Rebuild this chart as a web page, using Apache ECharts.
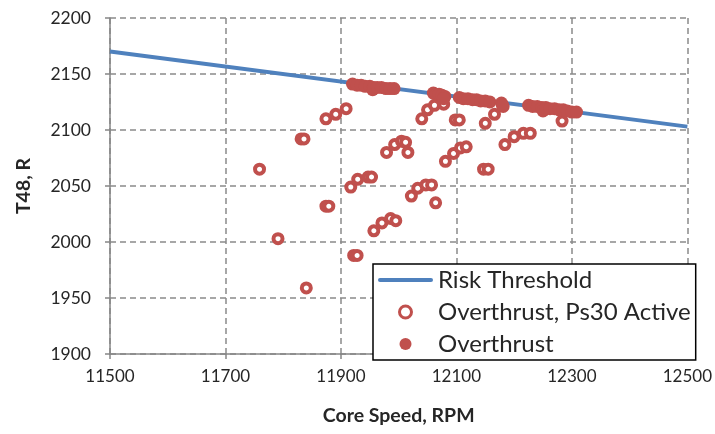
<!DOCTYPE html>
<html><head><meta charset="utf-8">
<script src="https://cdn.jsdelivr.net/npm/echarts@6/dist/echarts.min.js"></script>
<style>html,body{margin:0;padding:0;background:#fff}#c{width:715px;height:434px}</style>
</head><body><div id="c"></div>
<script>
const xTitle = 'Core Speed, RPM';
const yTitle = 'T48, R';
const seriesNames = ['Risk Threshold', 'Overthrust, Ps30 Active', 'Overthrust'];
const thresholdRpm = [11500, 12500];
const thresholdT48 = [2170, 2103];
const ps30Rpm = [11759,11791,11840,11831,11836,11874,11879,11874,11891,11909,11917,11929,11947,11953,11922,11928,11957,11971,11986,11995,11979,11993,12005,12012,12016,12022,12033,12047,12057,12064,12040,12050,12062,12078,12081,12095,12107,12117,12098,12105,12150,12166,12181,12147,12155,12184,12200,12216,12228,12283];
const ps30T48 = [2065,2003,1959,2092,2092,2032,2032,2110,2114,2119,2049,2056,2058,2058,1988,1988,2010,2017,2021,2019,2080,2087,2090,2089,2080,2041,2048,2051,2051,2035,2110,2118,2122,2123,2072,2079,2084,2085,2109,2109,2106,2114,2121,2065,2065,2087,2094,2097,2097,2108];
const overRpm = [11920,11928,11935,11942,11950,11955,11957,11963,11970,11978,11985,11992,12060,12065,12070,12075,12080,12078,12105,12112,12120,12128,12135,12142,12150,12158,12178,12180,12225,12232,12240,12248,12250,12255,12262,12270,12278,12285,12292,12300,12308];
const overT48 = [2141,2140,2140,2139,2139,2136,2138,2138,2138,2137,2137,2137,2133,2132,2132,2131,2130,2128,2129,2128,2128,2127,2127,2126,2126,2125,2124,2122,2122,2121,2121,2120,2117,2120,2119,2119,2118,2118,2117,2116,2116];
const xMin = 11500, xMax = 12500, xStep = 200;
const yMin = 1900, yMax = 2200, yStep = 50;

const red = '#C0504D', blue = '#4F81BD';
const font = 'Lato, "Open Sans", sans-serif';
const zip = (a, b) => a.map((v, i) => [v, b[i]]);
const chart = echarts.init(document.getElementById('c'));
const splitLine = {show: true, lineStyle: {color: '#8a8a8a', width: 1.5, type: [6, 4]}};
chart.setOption({
  animation: false,
  grid: {left: 110, right: 25, top: 18, bottom: 80},
  xAxis: {
    type: 'value', min: xMin, max: xMax, interval: xStep,
    name: xTitle, nameLocation: 'middle', nameGap: 52,
    nameTextStyle: {fontFamily: font, fontSize: 19.5, fontWeight: 'bold', color: '#262626'},
    axisLine: {lineStyle: {color: '#868686', width: 1.5}},
    axisTick: {show: true, length: 5, lineStyle: {color: '#868686', width: 1.5}},
    axisLabel: {fontFamily: font, fontSize: 17, color: '#262626', margin: 14, formatter: v => String(v)},
    splitLine: splitLine
  },
  yAxis: {
    type: 'value', min: yMin, max: yMax, interval: yStep,
    name: yTitle, nameLocation: 'middle', nameGap: 76, nameRotate: 90,
    nameTextStyle: {fontFamily: font, fontSize: 19.5, fontWeight: 'bold', color: '#262626'},
    axisLine: {show: true, lineStyle: {color: '#868686', width: 1.5}},
    axisTick: {show: true, length: 5, lineStyle: {color: '#868686', width: 1.5}},
    axisLabel: {fontFamily: font, fontSize: 17.5, color: '#262626', margin: 19, formatter: v => String(v)},
    splitLine: splitLine
  },
  legend: {
    orient: 'vertical', left: 373, top: 264,
    backgroundColor: '#fff', borderColor: '#000', borderWidth: 1.5,
    padding: [4, 5, 4, 5],
    itemWidth: 55, itemHeight: 12, itemGap: 8,
    textStyle: {fontFamily: font, fontSize: 24, color: '#262626'},
    data: [
      {name: seriesNames[0], icon: 'path://M2,0 L53,0 A2,2 0 0 1 53,4 L2,4 A2,2 0 0 1 2,0 Z', itemStyle: {color: blue}},
      {name: seriesNames[1], itemStyle: {color: '#fff', borderColor: red, borderWidth: 3}},
      {name: seriesNames[2]}
    ]
  },
  series: [
    {name: seriesNames[0], type: 'line', data: zip(thresholdRpm, thresholdT48), symbol: 'none', z: 1,
     lineStyle: {color: blue, width: 4}, itemStyle: {color: blue}},
    {name: seriesNames[1], type: 'scatter', data: zip(ps30Rpm, ps30T48), symbol: 'circle', symbolSize: 9, z: 3,
     itemStyle: {color: '#fff', borderColor: red, borderWidth: 4, opacity: 1}},
    {name: seriesNames[2], type: 'scatter', data: zip(overRpm, overT48), symbol: 'circle', symbolSize: 13, z: 4,
     itemStyle: {color: red, opacity: 1}}
  ]
});
</script></body></html>
